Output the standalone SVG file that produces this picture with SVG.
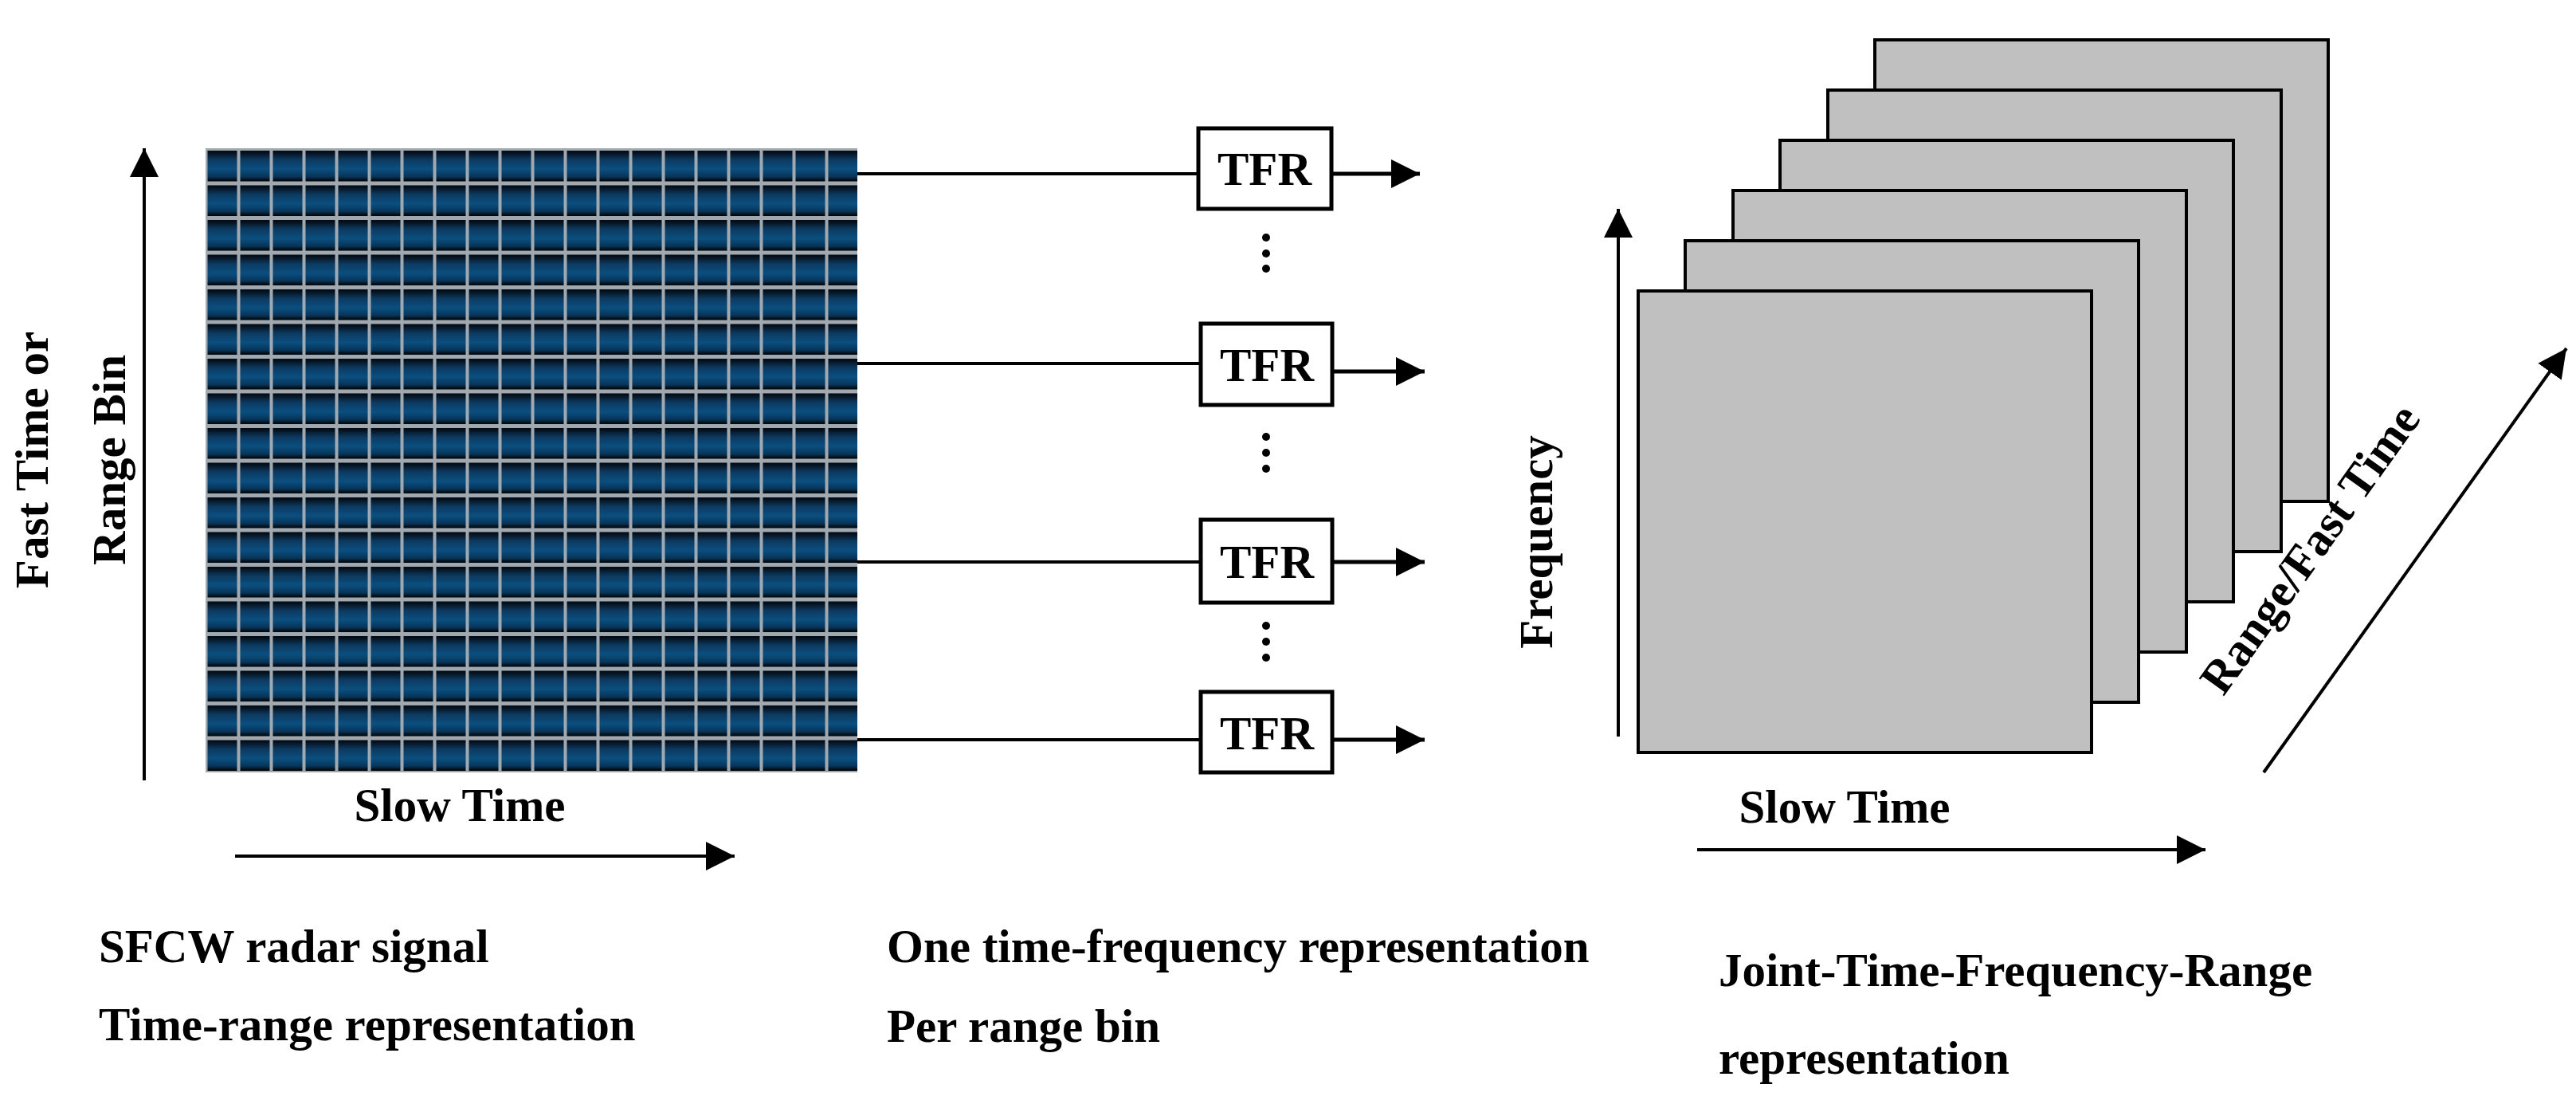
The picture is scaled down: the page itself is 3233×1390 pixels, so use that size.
<svg xmlns="http://www.w3.org/2000/svg" width="3233" height="1390" viewBox="0 0 3233 1390">
<style>
text{font-family:"Liberation Serif","Times New Roman",serif;font-weight:bold;font-size:59px;fill:#000}
.ln{stroke:#000;stroke-width:4;fill:none}
.box{fill:#fff;stroke:#000;stroke-width:5}
.sq{fill:#c0c0c0;stroke:#000;stroke-width:4}
</style>
<defs>
<marker id="ah2" viewBox="0 0 10 10" refX="10" refY="5" markerWidth="36" markerHeight="40" markerUnits="userSpaceOnUse" orient="auto">
<path d="M0,0L10,5L0,10z" fill="#000"/>
</marker>
<linearGradient id="cg" x1="0" y1="0" x2="0" y2="1">
<stop offset="0" stop-color="#02060c"/>
<stop offset="0.3" stop-color="#0d3a60"/>
<stop offset="0.6" stop-color="#0a4f80"/>
<stop offset="0.85" stop-color="#083458"/>
<stop offset="1" stop-color="#000"/>
</linearGradient>
<pattern id="grid" x="258" y="186" width="41" height="43.5" patternUnits="userSpaceOnUse">
<rect width="41" height="43.5" fill="#a0a8b0"/>
<rect x="2.5" y="3" width="37" height="38.5" fill="url(#cg)"/>
</pattern>
</defs>
<g id="signal">
<rect x="258" y="186" width="818" height="783" fill="url(#grid)"/>
</g>
<g id="connectors">
<line class="ln" x1="181" y1="979" x2="181" y2="186" marker-end="url(#ah2)"/>
<line class="ln" x1="295" y1="1074" x2="922" y2="1074" marker-end="url(#ah2)"/>
<line class="ln" x1="1076" y1="218" x2="1504" y2="218"/>
<line class="ln" x1="1076" y1="456" x2="1507" y2="456"/>
<line class="ln" x1="1076" y1="705" x2="1507" y2="705"/>
<line class="ln" x1="1076" y1="928" x2="1507" y2="928"/>
<line class="ln" style="stroke-width:5" x1="1671" y1="218" x2="1782" y2="218" marker-end="url(#ah2)"/>
<line class="ln" style="stroke-width:5" x1="1672" y1="466" x2="1788" y2="466" marker-end="url(#ah2)"/>
<line class="ln" style="stroke-width:5" x1="1672" y1="705" x2="1788" y2="705" marker-end="url(#ah2)"/>
<line class="ln" style="stroke-width:5" x1="1672" y1="928" x2="1788" y2="928" marker-end="url(#ah2)"/>
<line class="ln" x1="2031" y1="924" x2="2031" y2="262" marker-end="url(#ah2)"/>
<line class="ln" x1="2130" y1="1066" x2="2768" y2="1066" marker-end="url(#ah2)"/>
<line class="ln" x1="2841" y1="969" x2="3221" y2="437" marker-end="url(#ah2)"/>
</g>
<g id="tfr1"><rect class="box" x="1504" y="161" width="167" height="101"/><text x="1587" y="232" text-anchor="middle">TFR</text></g>
<g id="tfr2"><rect class="box" x="1507" y="406" width="165" height="102"/><text x="1590" y="478" text-anchor="middle">TFR</text></g>
<g id="tfr3"><rect class="box" x="1507" y="652" width="165" height="104"/><text x="1590" y="725" text-anchor="middle">TFR</text></g>
<g id="tfr4"><rect class="box" x="1507" y="868" width="165" height="101"/><text x="1590" y="940" text-anchor="middle">TFR</text></g>
<g id="dots" fill="#000">
<circle cx="1589" cy="298" r="5"/><circle cx="1589" cy="318" r="5"/><circle cx="1589" cy="337" r="5"/>
<circle cx="1589" cy="548" r="5"/><circle cx="1589" cy="568" r="5"/><circle cx="1589" cy="588" r="5"/>
<circle cx="1589" cy="785" r="5"/><circle cx="1589" cy="805" r="5"/><circle cx="1589" cy="825" r="5"/>
</g>
<g id="stack">
<rect class="sq" x="2353" y="50" width="569" height="579"/>
<rect class="sq" x="2294" y="113" width="569" height="579"/>
<rect class="sq" x="2234" y="176" width="569" height="579"/>
<rect class="sq" x="2175" y="239" width="569" height="579"/>
<rect class="sq" x="2115" y="302" width="569" height="579"/>
<rect class="sq" x="2056" y="365" width="569" height="579"/>
</g>
<g id="labels">
<text transform="translate(60,577) rotate(-90)" text-anchor="middle">Fast Time or</text>
<text transform="translate(157,577) rotate(-90)" text-anchor="middle">Range Bin</text>
<text x="577" y="1030" text-anchor="middle">Slow Time</text>
<text x="124" y="1207">SFCW radar signal</text>
<text x="124" y="1305">Time-range representation</text>
<text x="1113" y="1207">One time-frequency representation</text>
<text x="1113" y="1307">Per range bin</text>
<text x="2157" y="1237">Joint-Time-Frequency-Range</text>
<text x="2157" y="1347">representation</text>
<text transform="translate(1948,680) rotate(-90)" text-anchor="middle">Frequency</text>
<text x="2315" y="1032" text-anchor="middle">Slow Time</text>
<text transform="translate(2915,700) rotate(-54.5)" text-anchor="middle">Range/Fast Time</text>
</g>
</svg>
